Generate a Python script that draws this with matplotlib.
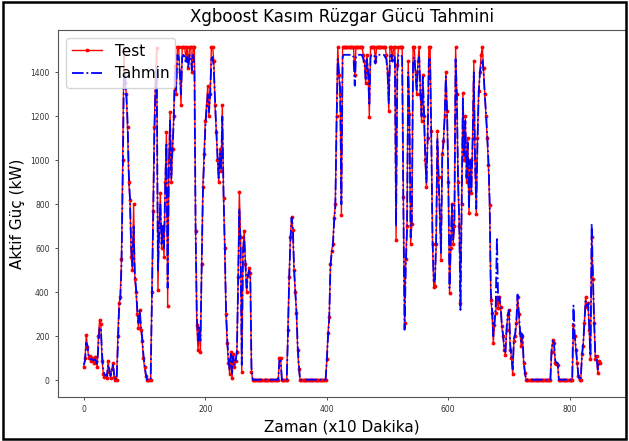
import numpy as np
import matplotlib
matplotlib.use("Agg")
from matplotlib import pyplot as plt
from matplotlib.patches import Rectangle

# Every 2 steps (x10 min)
step = 2

test = [
    60, 100, 205, 150, 100, 110, 90, 100, 80, 105,
    90, 60, 200, 275, 255, 90, 30, 15, 25, 10,
    90, 40, 10, 50, 80, 15, 0, 0, 200, 350,
    380, 550, 1000, 1510, 1350, 1300, 1150, 900, 820, 560,
    500, 800, 460, 400, 300, 240, 320, 230, 180, 100,
    60, 20, 0, 0, 0, 0, 400, 770, 1150, 1370,
    1510, 410, 700, 850, 600, 700, 560, 900, 1130, 340,
    1000, 1220, 900, 1050, 1200, 1430, 1300, 1517, 1517, 1400,
    1250, 1517, 1517, 1517, 1460, 1517, 1420, 1517, 1517, 1400,
    1517, 1517, 680, 250, 140, 230, 130, 530, 880, 1030,
    1180, 1250, 1340, 1200, 1300, 1517, 1517, 1450, 1250, 1130,
    1000, 900, 1050, 950, 1250, 830, 600, 300, 170, 80,
    30, 130, 10, 120, 60, 90, 130, 470, 855, 650,
    40, 600, 680, 530, 400, 480, 510, 490, 40, 0,
    0, 0, 0, 0, 0, 0, 0, 0, 0, 0,
    0, 0, 0, 0, 0, 0, 0, 0, 0, 0,
    0, 100, 100, 0, 0, 0, 0, 0, 230, 470,
    650, 742, 682, 500, 400, 305, 140, 50, 0, 0,
    0, 0, 0, 0, 0, 0, 0, 0, 0, 0,
    0, 0, 0, 0, 0, 0, 0, 0, 0, 0,
    95, 215, 290, 530, 590, 620, 740, 800, 1200, 1517,
    1390, 1300, 750, 1517, 1517, 1517, 1517, 1517, 1517, 1517,
    1517, 1517, 1517, 1390, 1517, 1517, 1517, 1517, 1517, 1517,
    1480, 1450, 1350, 1480, 1400, 1197, 1517, 1517, 1517, 1517,
    1450, 1517, 1517, 1517, 1517, 1517, 1517, 1517, 1517, 1480,
    1400, 1224, 1517, 1517, 1457, 1517, 1517, 637, 1434, 1517,
    1517, 1517, 1517, 832, 260, 550, 700, 1450, 1209, 621,
    712, 1517, 1517, 1400, 1300, 1450, 1517, 1300, 1178, 1390,
    1200, 1000, 877, 1100, 1517, 1517, 1133, 621, 426, 430,
    621, 1133, 923, 742, 546, 1028, 1088, 1200, 1404, 1224,
    900, 396, 600, 800, 620, 700, 1517, 1300, 900, 700,
    350, 800, 1306, 1000, 1200, 900, 1100, 760, 1000, 850,
    1100, 1450, 1000, 757, 1100, 1314, 1400, 1480, 1517, 1420,
    1300, 1200, 1100, 980, 795, 366, 305, 170, 250, 305,
    380, 330, 380, 335, 245, 200, 140, 117, 230, 298,
    320, 140, 103, 27, 180, 200, 260, 381, 300, 215,
    155, 200, 80, 35, 0, 0, 0, 0, 0, 0,
    0, 0, 0, 0, 0, 0, 0, 0, 0, 0,
    0, 0, 0, 0, 0, 130, 185, 170, 80, 75,
    70, 0, 0, 0, 0, 0, 0, 0, 0, 0,
    0, 0, 0, 250, 200, 140, 80, 20, 0, 0,
    120, 155, 260, 380, 335, 350, 230, 95, 650, 460,
    260, 95, 110, 35, 90, 80,
]

tahmin = [
    70, 90, 170, 160, 110, 100, 95, 95, 90, 95,
    90, 70, 160, 240, 240, 120, 50, 25, 25, 20,
    70, 50, 20, 40, 70, 25, 5, 5, 150, 320,
    370, 520, 900, 1400, 1380, 1300, 1180, 950, 820, 600,
    520, 700, 480, 420, 320, 260, 320, 250, 200, 120,
    70, 30, 3, 3, 3, 3, 350, 700, 1100, 1330,
    1420, 500, 680, 800, 620, 700, 600, 880, 1080, 420,
    950, 1180, 920, 1050, 1180, 1400, 1320, 1480, 1470, 1400,
    1300, 1470, 1480, 1470, 1440, 1470, 1420, 1480, 1470, 1410,
    1480, 1440, 700, 300, 180, 240, 180, 520, 850, 1000,
    1150, 1230, 1300, 1220, 1300, 1460, 1470, 1420, 1270, 1140,
    1020, 920, 1030, 960, 1200, 850, 620, 330, 190, 100,
    50, 120, 30, 110, 70, 90, 130, 430, 780, 620,
    70, 580, 650, 540, 420, 470, 500, 480, 60, 3,
    3, 3, 3, 3, 3, 3, 3, 3, 3, 3,
    3, 3, 3, 3, 3, 3, 3, 3, 3, 3,
    3, 90, 90, 3, 3, 3, 3, 3, 200, 450,
    630, 740, 700, 520, 410, 320, 160, 70, 3, 3,
    3, 3, 3, 3, 3, 3, 3, 3, 3, 3,
    3, 3, 3, 3, 3, 3, 3, 3, 3, 3,
    90, 200, 280, 520, 580, 610, 720, 790, 1150, 1460,
    1400, 1320, 800, 1470, 1480, 1480, 1480, 1480, 1480, 1480,
    1480, 1480, 1470, 1340, 1470, 1480, 1480, 1480, 1480, 1480,
    1460, 1440, 1370, 1460, 1400, 1250, 1470, 1480, 1480, 1480,
    1440, 1480, 1480, 1480, 1480, 1480, 1480, 1480, 1470, 1460,
    1400, 1260, 1470, 1480, 1450, 1480, 1480, 700, 1400, 1480,
    1480, 1480, 1470, 800, 230, 520, 680, 1400, 1220, 650,
    730, 1460, 1470, 1400, 1320, 1430, 1470, 1320, 1200, 1380,
    1220, 1020, 900, 1100, 1460, 1460, 1100, 650, 450, 460,
    640, 1100, 920, 760, 580, 1010, 1080, 1200, 1380, 1220,
    920, 420, 620, 800, 640, 720, 1460, 1300, 920, 720,
    320, 780, 1280, 1020, 1180, 920, 1080, 780, 1000, 860,
    1080, 1400, 1000, 780, 1080, 1300, 1400, 1440, 1460, 1400,
    1300, 1220, 1120, 1000, 820, 400, 330, 200, 270, 330,
    650, 360, 380, 340, 260, 210, 150, 130, 240, 300,
    320, 160, 110, 50, 190, 210, 270, 390, 310, 230,
    170, 210, 90, 40, 3, 3, 3, 3, 3, 3,
    3, 3, 3, 3, 3, 3, 3, 3, 3, 3,
    3, 3, 3, 3, 3, 140, 180, 170, 90, 80,
    80, 3, 3, 3, 3, 3, 3, 3, 3, 3,
    3, 3, 3, 340, 210, 150, 90, 25, 3, 3,
    110, 170, 260, 360, 340, 350, 240, 110, 712, 480,
    270, 110, 110, 50, 80, 80,
]

x_test = np.arange(len(test)) * step
x_tahmin = np.arange(len(tahmin)) * step

fig = plt.figure(figsize=(6.29, 4.41), dpi=100)
ax = fig.add_axes([58 / 629, 1 - 397 / 441, (626 - 58) / 629, (397 - 30) / 441])

ax.plot(x_test, test, color="red", marker=".", markersize=3.5, linewidth=1, label="Test")
ax.plot(x_tahmin, tahmin, color="blue", linestyle="-.", linewidth=1.3, label="Tahmin")

ax.set_title("Xgboost Kasım Rüzgar Gücü Tahmini", fontsize=12)
ax.set_xlabel("Zaman (x10 Dakika)", fontsize=11)
ax.set_ylabel("Aktif Güç (kW)", fontsize=11)
ax.tick_params(axis="both", labelsize=5.5, length=2.5, width=0.6, colors="#333333")
for spine in ax.spines.values():
    spine.set_color("#555555")
    spine.set_linewidth(0.8)

ax.legend(loc="upper left", fontsize=11)

# Black frame around the whole figure
fig.patches.append(Rectangle((0.004, 0.004), 0.992, 0.992, transform=fig.transFigure,
                             fill=False, edgecolor="black", linewidth=1.8))

fig.savefig("out.png", dpi=100)
